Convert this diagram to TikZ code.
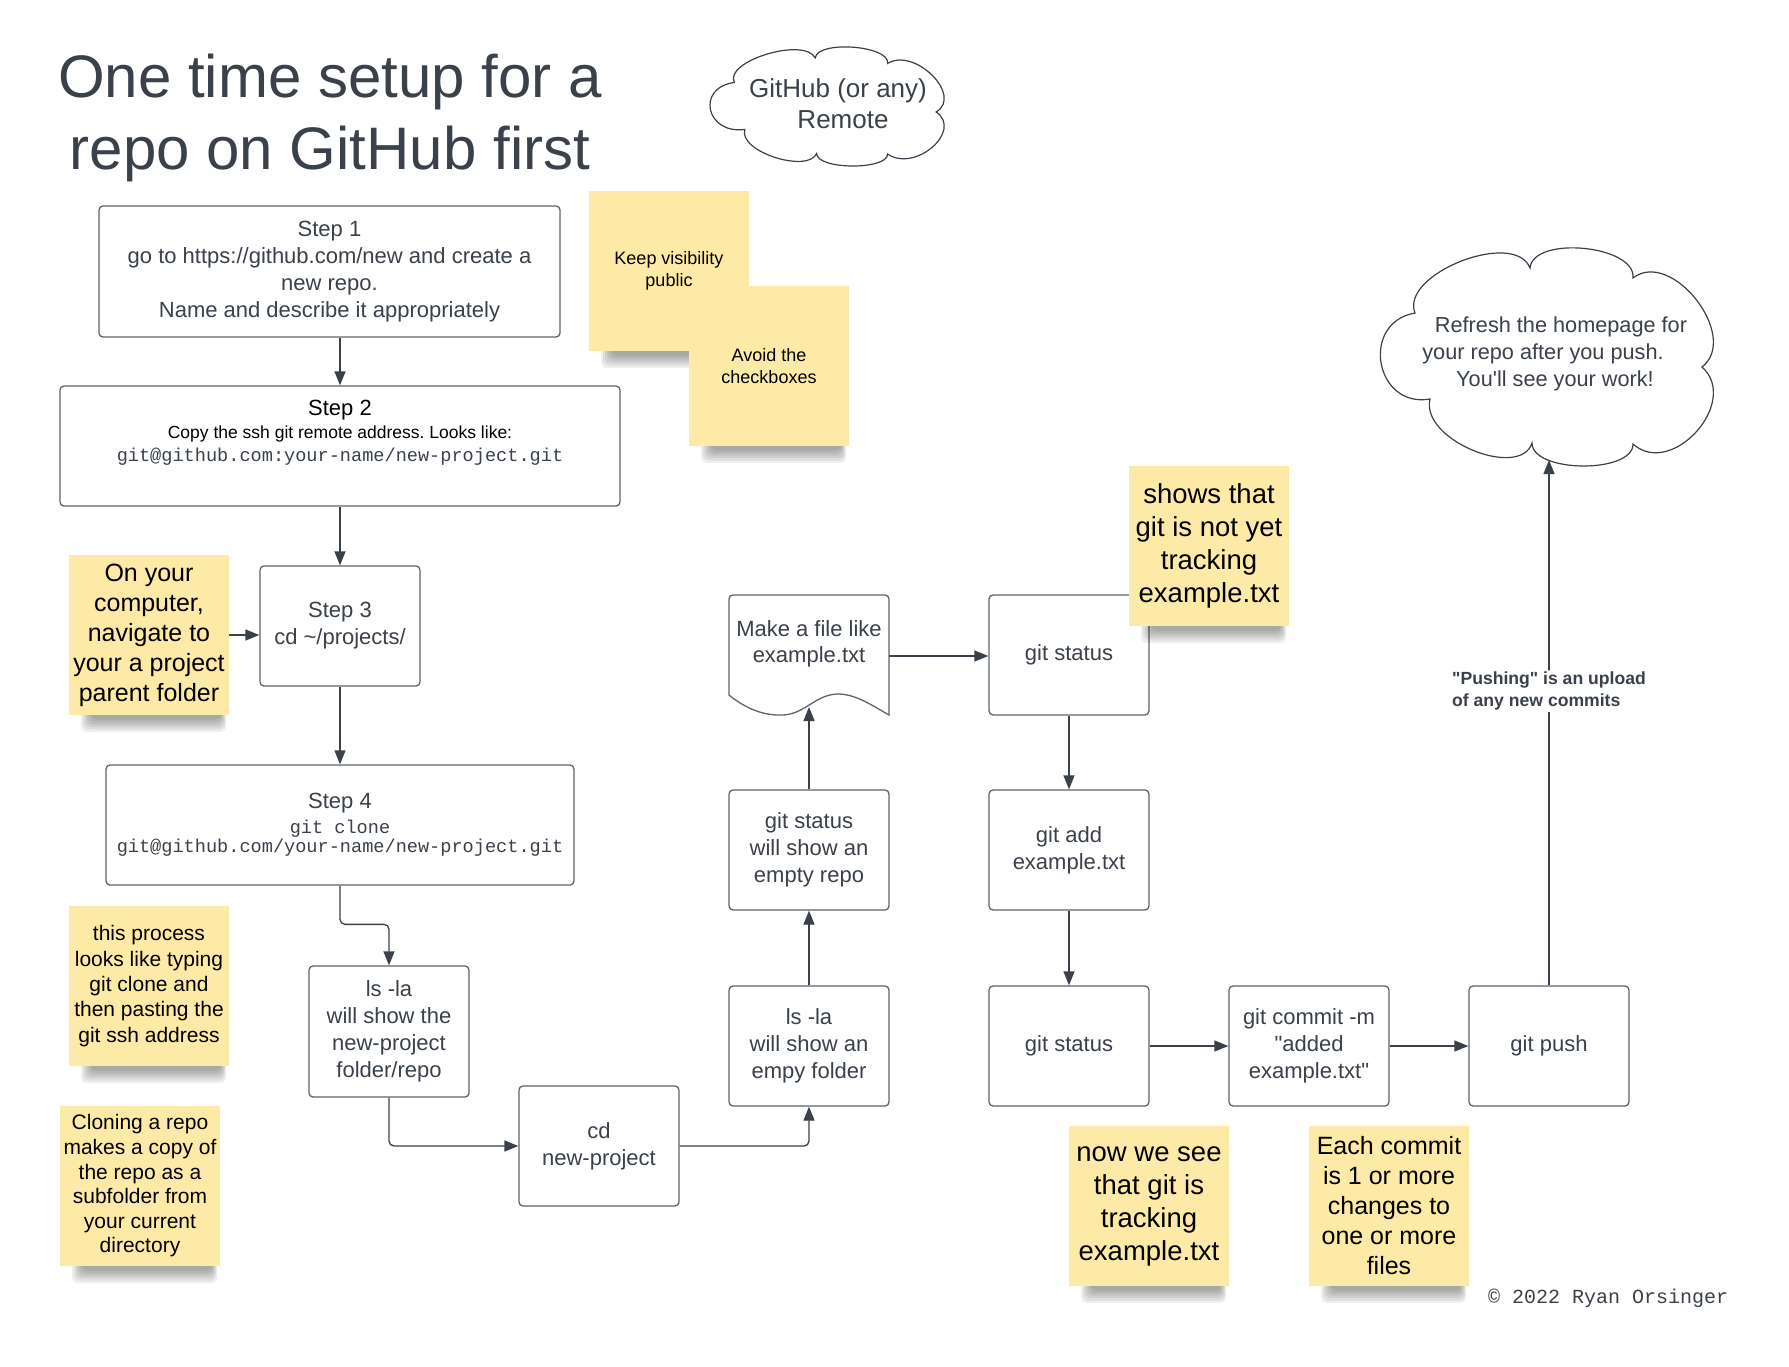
\documentclass[tikz,border=0pt]{standalone}
\usepackage{fontspec}
\setmainfont{Liberation Sans}[Ligatures=TeXOff]
\setmonofont{Liberation Mono}
\usetikzlibrary{arrows.meta,calc}
\definecolor{ink}{HTML}{3A414A}
\definecolor{edgegray}{HTML}{5E646E}
\definecolor{stickyyellow}{HTML}{FEEAA7}
\frenchspacing
\newcommand{\fsz}[2]{\fontsize{#1}{#2}\selectfont}
\newcommand{\myCloudPath}{(1415,313) .. controls (1399.7,273.9) and (1514.7,228.9) .. (1530,268)
 .. controls (1533.2,235.2) and (1636.2,245.2) .. (1633,278)
 .. controls (1671.7,248) and (1740.7,337) .. (1702,367)
 .. controls (1740.7,401.7) and (1671.7,478.7) .. (1633,444)
 .. controls (1633,474) and (1532,473) .. (1532,443)
 .. controls (1520,480) and (1420,440) .. (1430,399)
 .. controls (1374.8,408.6) and (1359.8,322.6) .. (1415,313) -- cycle}
% name, cx, cy, font, text
\newcommand{\stickyNote}[5]{%
  \foreach \i in {0,...,5}{%
    \fill[black,opacity=0.065,rounded corners=6pt] ({#2-68+2*\i},{#3+74}) rectangle ({#2+77-\i},{#3+97-2.5*\i});
  }
  \node[stickynote,font=#4] (#1) at (#2,#3) {#5};}
\begin{document}
\begin{tikzpicture}[x=1pt,y=-1pt,
  box/.style={draw=edgegray,line width=1.3pt,rounded corners=4pt,fill=white,text=ink,align=center,
    minimum width=160pt,minimum height=120pt,inner sep=0pt,font=\fsz{22}{27}},
  stickynote/.style={fill=stickyyellow,text=black,align=center,minimum width=160pt,minimum height=160pt,inner sep=0pt},
  arr/.style={draw=ink,line width=1.3pt,-{Triangle[length=14pt,width=11pt]},rounded corners=5pt},
  cloudline/.style={draw=ink,line width=1.2pt,fill=white},
  plain/.style={text=ink,align=center,inner sep=0pt},
  pushlbl/.style={fill=white,text=ink,align=left,inner sep=1.5pt,font=\bfseries\fsz{17.6}{22}}
]
\useasboundingbox (0,0) rectangle (1789,1366);
\fill[white] (0,0) rectangle (1789,1366);

% title
\node[plain,font=\fsz{60}{72}] (title) at (330,118) {One time setup for a\\repo on GitHub first};

% clouds
\begin{scope}[shift={(709,47)},xscale=0.7033,yscale=0.5459,shift={(-1379,-248)}]
  \draw[cloudline] \myCloudPath;
\end{scope}
\node[plain,font=\fsz{26}{31}] (remote) at (838,104) {GitHub (or any)\\\hspace*{10pt}Remote};
\draw[cloudline] \myCloudPath;
\node[plain,font=\fsz{21.7}{26.7}] (refresh) at (1555,354) {\hspace*{12pt}Refresh the homepage for\\your repo after you push.\rule{24pt}{0pt}\\You'll see your work!};
\coordinate (cloudB) at (1549,460);

% boxes
\node[box,minimum width=461pt,minimum height=131pt] (step1) at (329.5,271.5) {Step 1\\go to https://github.com/new and create a\\new repo.\\Name and describe it appropriately};
\node[box,minimum width=560pt] (step2) at (340,446) {};
\node[plain,text=black,font=\fsz{17.5}{23}] (step2txt) at (340,433) {{\fsz{22}{24}Step 2}\\Copy the ssh git remote address. Looks like:\\{\color{ink}\ttfamily\fsz{18.6}{22}git@github.com:your-name/new-project.git}};
\node[box] (step3) at (340,626) {Step 3\\cd \textasciitilde/projects/};
\node[box,minimum width=468pt,font=\ttfamily\fsz{18.6}{19.5}] (step4) at (340,825) {{\rmfamily\fsz{22}{26}Step 4}\\[5pt]git clone\\git@github.com/your-name/new-project.git};
\node[box,minimum height=131pt] (lsla1) at (389,1031.5) {ls -la\\will show the\\new-project\\folder/repo};
\node[box] (cd) at (599,1146) {cd\\new-project};
\node[box] (lsla2) at (809,1046) {ls -la\\will show an\\empy folder};
\node[box] (gsshow) at (809,850) {git status\\will show an\\empty repo};
% document shape
\draw[draw=edgegray,line width=1.3pt,fill=white] (729,695) -- (729,599) arc[start angle=180,end angle=90,radius=4pt]
  -- (885,595) arc[start angle=90,end angle=0,radius=4pt] -- (889,715)
  .. controls (868,703) and (855,694) .. (837,694)
  .. controls (815,695) and (805,714) .. (783,715)
  .. controls (763,716) and (745,708) .. (729,695) -- cycle;
\node[plain,font=\fsz{22}{26.5}] (doc) at (809,644) {Make a file like\\example.txt};
\coordinate (docR) at (889,656);
\coordinate (docB) at (809,707);
\node[box] (gstatus1) at (1069,655) {git status};
\node[box] (gadd) at (1069,850) {git add\\example.txt};
\node[box] (gstatus2) at (1069,1046) {git status};
\node[box] (gcommit) at (1309,1046) {git commit -m\\"added\\example.txt"};
\node[box] (gpush) at (1549,1046) {git push};

% connectors
\draw[arr] (step2.north |- step1.south) -- (step2.north);
\draw[arr] (step2.south) -- (step3.north);
\draw[arr] (step3.south) -- (step4.north);
\draw[arr] (step4.south) |- ($(lsla1.north)+(0,-41)$) -- (lsla1.north);
\draw[arr] (lsla1.south) |- (cd.west);
\draw[arr] (cd.east) -| (lsla2.south);
\draw[arr] (lsla2.north) -- (gsshow.south);
\draw[arr] (gsshow.north) -- (docB);
\draw[arr] (docR) -- (docR -| gstatus1.west);
\draw[arr] (gstatus1.south) -- (gadd.north);
\draw[arr] (gadd.south) -- (gstatus2.north);
\draw[arr] (gstatus2.east) -- (gcommit.west);
\draw[arr] (gcommit.east) -- (gcommit.east -| gpush.west);
\draw[arr] (gpush.north) -- node[pushlbl,pos=0.56] (pushnote) {"Pushing" is an upload\\of any new commits} (cloudB);

% sticky notes
\stickyNote{sOn}{149}{635}{\fsz{25}{30}}{On your\\computer,\\navigate to\\your a project\\parent folder}
\draw[arr] (sOn.east) -- (sOn.east -| step3.west);
\stickyNote{sProcess}{149}{986}{\fsz{21}{25.3}}{this process\\looks like typing\\git clone and\\then pasting the\\git ssh address}
\stickyNote{sCloning}{140}{1186}{\fsz{21}{24.6}}{Cloning a repo\\makes a copy of\\the repo as a\\subfolder from\\your current\\directory}
\stickyNote{sKeep}{669}{271}{\fsz{18}{21.7}}{Keep visibility\\public}
\stickyNote{sAvoid}{769}{366}{\fsz{18}{21.7}}{Avoid the\\checkboxes}
\stickyNote{sShows}{1209}{546}{\fsz{27.5}{33}}{shows that\\git is not yet\\tracking\\example.txt}
\stickyNote{sNow}{1149}{1206}{\fsz{27.5}{33}}{now we see\\that git is\\tracking\\example.txt}
\stickyNote{sEach}{1389}{1206}{\fsz{25}{30}}{Each commit\\is 1 or more\\changes to\\one or more\\files}

\node[anchor=base west,inner sep=0pt,text=ink,font=\ttfamily\fsz{20}{24}] (copyright) at (1488,1303) {© 2022 Ryan Orsinger};
\end{tikzpicture}
\end{document}
